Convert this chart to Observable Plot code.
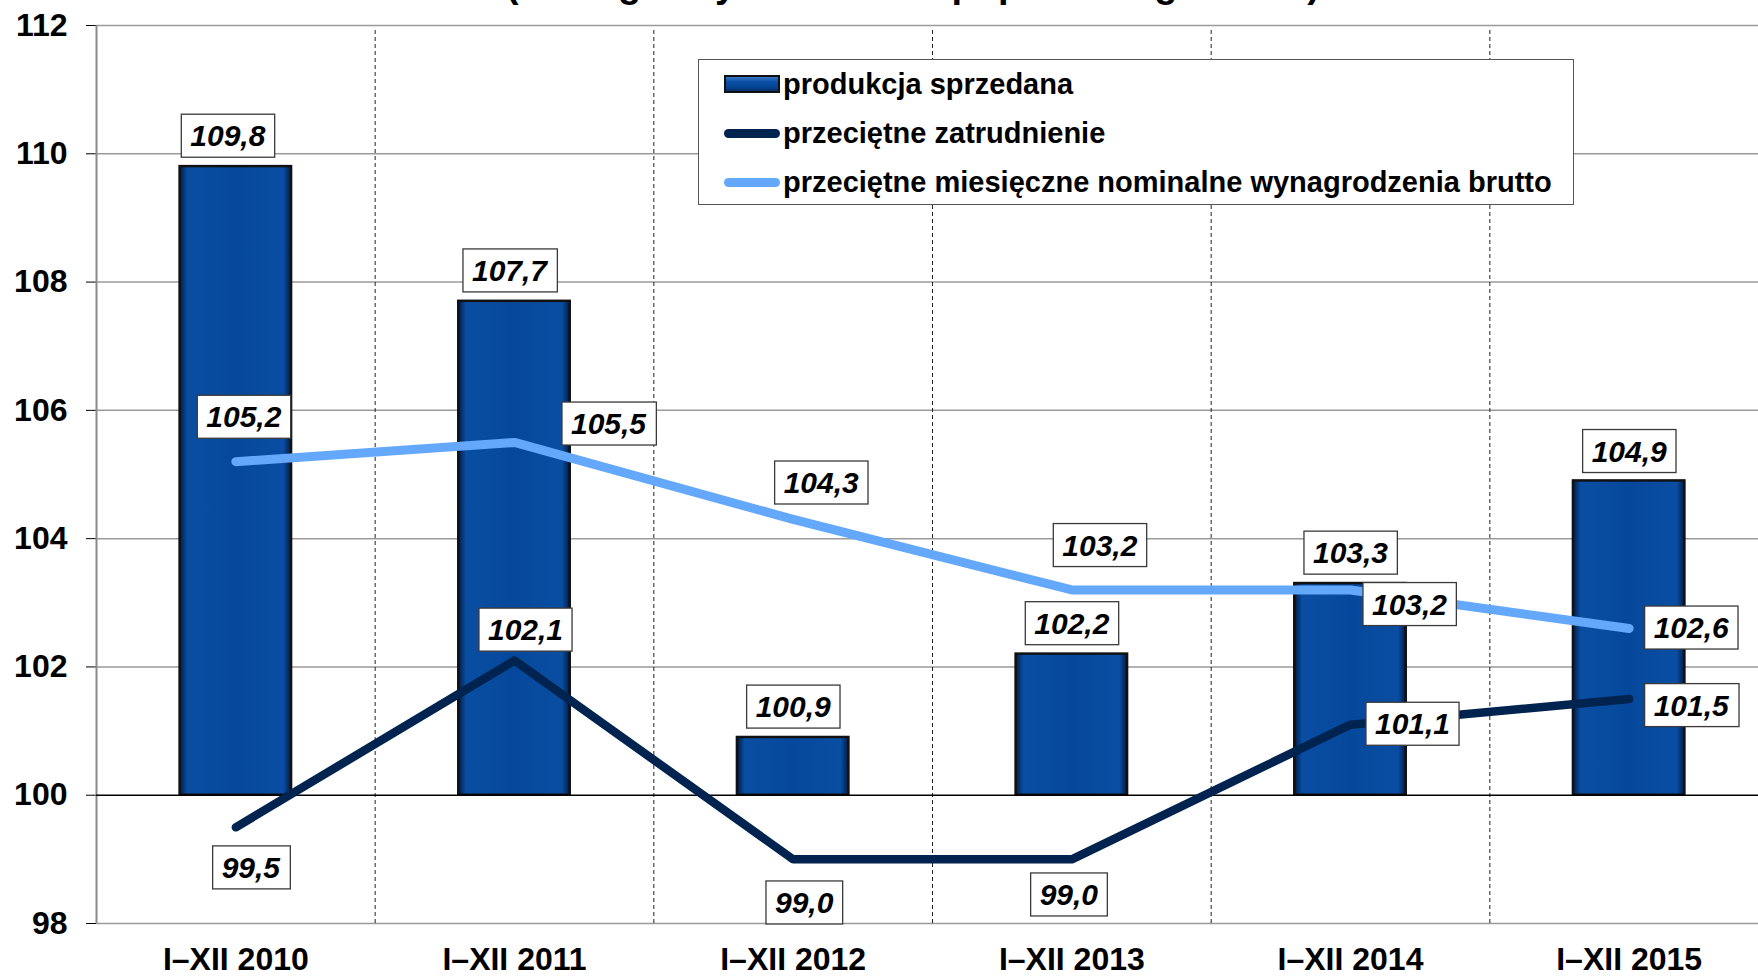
<!DOCTYPE html>
<html>
<head>
<meta charset="utf-8">
<script src="https://cdn.jsdelivr.net/npm/d3@7"></script>
<script src="https://cdn.jsdelivr.net/npm/@observablehq/plot@0.6"></script>
<style>
  html, body { margin: 0; padding: 0; background: #fff; overflow: hidden; }
  #wrap { position: relative; width: 1758px; height: 976px; overflow: hidden; font-family: "Liberation Sans", Arial, sans-serif; }
  #title { position: absolute; left: 0; width: 1826px; top: -35px; text-align: center; font-size: 38px; line-height: 38px; font-weight: bold; white-space: nowrap; color: #000; }
  #legend { position: absolute; left: 698px; top: 59px; width: 874px; height: 144px; border: 1.5px solid #555; background: #fff; }
  .row { position: absolute; left: 25px; height: 34px; display: flex; align-items: center; font-size: 29px; font-weight: bold; color: #000; white-space: nowrap; }
  .sw { width: 56px; margin-right: 3px; box-sizing: border-box; }
  .sw.bar { height: 18px; border: 2.5px solid #111; background: linear-gradient(#3a78c8 0%, #0a4ea3 35%, #05489b 65%, #03306a 100%); }
  .sw.line { height: 9px; border-radius: 5px; }
</style>
</head>
<body>
<div id="wrap">
  <div id="title">(analogiczny okres roku poprzedniego = 100)</div>
</div>
<script>
// ---- data ----
const categories = ["I–XII 2010", "I–XII 2011", "I–XII 2012", "I–XII 2013", "I–XII 2014", "I–XII 2015"];
const production = [109.8, 107.7, 100.9, 102.2, 103.3, 104.9];   // produkcja sprzedana
const employment = [99.5, 102.1, 99.0, 99.0, 101.1, 101.5];      // przeciętne zatrudnienie
const wages = [105.2, 105.5, 104.3, 103.2, 103.2, 102.6];        // przeciętne miesięczne nominalne wynagrodzenia brutto
const yTicks = [98, 100, 102, 104, 106, 108, 110, 112];
const seriesNames = ["produkcja sprzedana", "przeciętne zatrudnienie", "przeciętne miesięczne nominalne wynagrodzenia brutto"];

// ---- layout / style (label offsets in px) ----
const prodOffsets = [[-8, -30], [-5, -30], [0, -30], [0, -30], [0, -30], [0, -29]];
const empOffsets  = [[15, 41], [11, -30], [11, 44], [-3, 36], [62, 0], [62, 7]];
const wageOffsets = [[8, -44], [94, -18], [28, -36], [28, -44], [59, 15], [62, 0]];
const barColor = "#05489b";
const empColor = "#00234f";
const wageColor = "#64a8fc";

const rows = categories.map((c, i) => ({i, c, production: production[i], employment: employment[i], wages: wages[i]}));
const fmt = v => d3.format(".1f")(v).replace(".", ",");
const boundaries = categories.slice(1).map((_, i) => i + 0.5);
const labelStyle = {fontSize: 30, fontWeight: "bold", fontStyle: "italic", fill: "#000", fontFamily: "Liberation Sans, Arial, sans-serif"};

const labelMarks = (key, offsets) => rows.map((r, i) =>
  Plot.text([r], {x: "i", y: key, text: d => fmt(d[key]), dx: offsets[i][0], dy: offsets[i][1], ...labelStyle})
);

const chart = Plot.plot({
  width: 1758,
  height: 976,
  marginLeft: 96,
  marginRight: -10,
  marginTop: 25,
  marginBottom: 53,
  style: "font-family: 'Liberation Sans', Arial, sans-serif; font-size: 32px; font-weight: bold; color: #000; background: #fff; overflow: hidden;",
  x: {type: "linear", domain: [-0.5, categories.length - 0.5], ticks: categories.map((_, i) => i), tickFormat: i => categories[i], tickSize: 0, tickPadding: 24, label: null},
  y: {domain: [98, 112], ticks: yTicks, tickSize: 10, tickPadding: 19, label: null},
  marks: [
    Plot.ruleY(yTicks.filter(t => t !== 100), {stroke: "#9a9a9a", strokeWidth: 1.5}),
    Plot.ruleX(boundaries, {y1: 98, y2: 112, stroke: "#222", strokeWidth: 1, strokeDasharray: "4,3", insetBottom: -5}),
    Plot.ruleX([-0.5], {y1: 98, y2: 112, stroke: "#8a8a8a", strokeWidth: 2}),
    Plot.rectY(rows, {x1: d => d.i - 0.2, x2: d => d.i + 0.2, y1: 100, y2: "production", fill: "url(#barGrad)", stroke: "#111", strokeWidth: 2.5}),
    Plot.ruleY([100], {stroke: "#000", strokeWidth: 1.5}),
    Plot.line(rows, {x: "i", y: "employment", stroke: empColor, strokeWidth: 8.5, strokeLinecap: "round", strokeLinejoin: "round"}),
    Plot.line(rows, {x: "i", y: "wages", stroke: wageColor, strokeWidth: 9, strokeLinecap: "round", strokeLinejoin: "round"}),
    ...labelMarks("production", prodOffsets),
    ...labelMarks("employment", empOffsets),
    ...labelMarks("wages", wageOffsets)
  ]
});

const wrap = document.getElementById("wrap");
wrap.insertBefore(chart, wrap.firstChild);
chart.style.display = "block";

const svg = d3.select(chart);
const defs = svg.insert("defs", ":first-child");
const grad = defs.append("linearGradient").attr("id", "barGrad").attr("x1", 0).attr("x2", 1).attr("y1", 0).attr("y2", 0);
[[0, "#011b44"], [0.07, "#0a4ea3"], [0.5, barColor], [0.93, "#0a4ea3"], [1, "#011b44"]]
  .forEach(([o, c]) => grad.append("stop").attr("offset", o).attr("stop-color", c));

// white boxes behind value labels
svg.selectAll('g[aria-label="text"] text').each(function () {
  const t = this;
  const bb = t.getBBox();
  const r = d3.select(t.parentNode).insert("rect", () => t)
    .attr("x", bb.x - 9).attr("y", bb.y - 5)
    .attr("width", bb.width + 18).attr("height", bb.height + 10)
    .attr("fill", "#fff").attr("stroke", "#3a3a3a").attr("stroke-width", 1.3);
  const tr = t.getAttribute("transform");
  if (tr) r.attr("transform", tr);
});

// legend
const legend = d3.select(wrap).append("div").attr("id", "legend");
const swatches = [["bar", null], ["line", empColor], ["line", wageColor]];
seriesNames.forEach((name, k) => {
  const row = legend.append("div").attr("class", "row").style("top", (7 + k * 49) + "px");
  const sw = row.append("div").attr("class", "sw " + swatches[k][0]);
  if (swatches[k][1]) sw.style("background", swatches[k][1]);
  row.append("span").text(name);
});
</script>
</body>
</html>
